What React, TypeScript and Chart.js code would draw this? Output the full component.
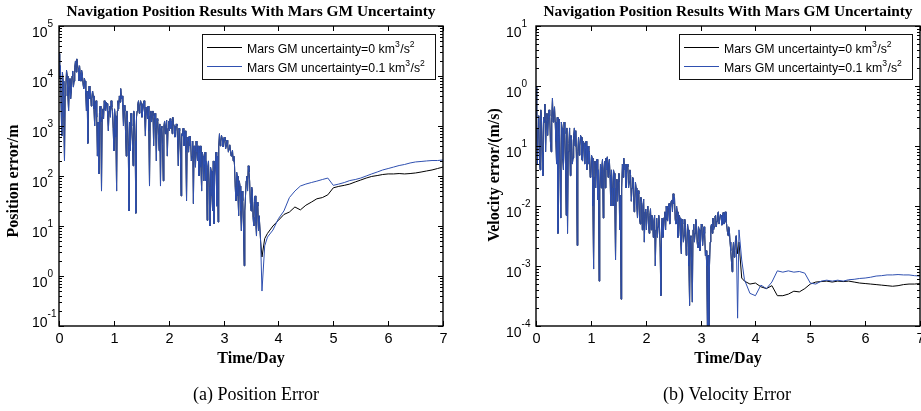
import React, { useEffect, useRef } from 'react';
import { Chart, registerables } from 'chart.js';

Chart.register(...registerables);

// ---------------- DATA ----------------
const SAMPLE_STEP_DAYS = 0.0125; // early samples every 0.0125 day starting at day 0
const xTickValues = [0, 1, 2, 3, 4, 5, 6, 7];
const xTickLabels = ['0', '1', '2', '3', '4', '5', '6', '7'];
const posTickValues = [1e5, 1e4, 1e3, 1e2, 1e1, 1, 0.1];
const posTickLabels = ['10^5', '10^4', '10^3', '10^2', '10^1', '10^0', '10^{-1}'];
const velTickValues = [10, 1, 0.1, 0.01, 0.001, 0.0001];
const velTickLabels = ['10^1', '10^0', '10^1', '10^{-2}', '10^{-3}', '10^{-4}'];
const minorMultipliers = [2, 3, 4, 5, 6, 7, 8, 9];
const seriesNames = ['Mars GM uncertainty=0 km^3/s^2', 'Mars GM uncertainty=0.1 km^3/s^2'];

// position error (m), common to both runs, day 0 .. 3.65
const posEarly = [
  2.8e4, 9e3, 1.6e4, 3e3, 630, 1.2e4, 7.9e3, 1.5e3, 200, 4e3,
  6.3e3, 1.3e4, 1e4, 4e3, 2e3, 6e3, 8.9e3, 3.5e3, 5e3, 1e4,
  1.26e4, 6e3, 7.9e3, 1.5e4, 2e4, 1.2e4, 2.2e4, 1.7e4, 1.4e4, 8e3,
  1.6e4, 1.1e4, 7.9e3, 1.3e4, 1.1e4, 7e3, 5.6e3, 9e3, 7.9e3, 4.5e3,
  2e3, 5e3, 450, 4e3, 6.3e3, 3.5e3, 5e3, 2.5e3, 3.5e3, 5e3,
  4e3, 2.2e3, 1e3, 2.5e3, 3.2e3, 1.5e3, 250, 1.2e3, 110, 1.8e3,
  2.5e3, 1.2e3, 50, 1.5e3, 2.2e3, 1.4e3, 3.2e3, 2.2e3, 2e3, 3e3,
  2.8e3, 1.6e3, 800, 2e3, 2.5e3, 1.5e3, 3.2e3, 2.4e3, 2e3, 900,
  320, 2.2e3, 1.6e3, 600, 50, 2e3, 3.2e3, 2.2e3, 4e3, 3e3,
  5.6e3, 3.5e3, 4e3, 2.5e3, 1e3, 2.6e3, 2e3, 800, 250, 2e3,
  1.26e3, 400, 20, 1.2e3, 320, 1.8e3, 1e3, 500, 160, 2e3,
  1.6e3, 500, 18, 1.5e3, 2e3, 2.8e3, 3.2e3, 1.8e3, 2.5e3, 3.2e3,
  2.8e3, 1.5e3, 2e3, 2.6e3, 3.2e3, 1.6e3, 630, 2.4e3, 2.2e3, 1.4e3,
  2.5e3, 800, 63, 1.6e3, 2e3, 1.2e3, 1.6e3, 2e3, 400, 1.4e3,
  1.8e3, 900, 200, 1.4e3, 1.26e3, 700, 320, 1.1e3, 63, 900,
  1e3, 400, 80, 1e3, 1.26e3, 700, 1e3, 1.3e3, 250, 900,
  1.26e3, 800, 1.4e3, 900, 1.26e3, 700, 1.5e3, 1.1e3, 1e3, 600,
  800, 1.1e3, 1e3, 500, 160, 900, 800, 300, 40, 700,
  630, 900, 400, 700, 800, 300, 32, 600, 500, 300,
  630, 400, 500, 200, 250, 500, 28, 400, 320, 150,
  500, 300, 200, 400, 100, 300, 400, 150, 50, 300,
  250, 80, 160, 300, 80, 200, 13, 150, 200, 60,
  10, 150, 126, 40, 20, 200, 11, 100, 160, 300,
  25, 250, 12, 400, 700, 400, 500, 650, 560, 380,
  450, 600, 500, 350, 400, 520, 450, 300, 350, 420,
  320, 250, 280, 330, 200, 250, 160, 60, 32, 120,
  100, 40, 16, 80, 63, 20, 8, 50, 32, 10,
  1.6, 20, 40, 80, 100, 50, 160, 120, 80, 30,
  20, 60, 50, 15, 10, 30, 40, 12, 6.3, 30,
  25, 8, 16,
];

// velocity error (m/s), common to both runs, day 0 .. 3.65
const velEarly = [
  1.0, 0.3, 0.05, 0.2, 0.32, 0.06, 0.04, 0.4, 0.28, 0.08,
  0.032, 0.3, 0.25, 0.5, 0.08, 0.25, 0.35, 0.15, 0.28, 0.4,
  0.32, 0.12, 0.08, 0.3, 0.63, 0.25, 0.35, 0.45, 0.25, 0.12,
  0.05, 0.3, 0.0035, 0.15, 0.28, 0.04, 0.0063, 0.25, 0.2, 0.06,
  0.04, 0.25, 0.16, 0.05, 0.007, 0.2, 0.0035, 0.08, 0.11, 0.2,
  0.032, 0.15, 0.126, 0.05, 0.063, 0.15, 0.2, 0.1, 0.18, 0.06,
  0.0022, 0.08, 0.14, 0.07, 0.1, 0.15, 0.14, 0.06, 0.056, 0.12,
  0.11, 0.05, 0.089, 0.12, 0.04, 0.09, 0.1, 0.05, 0.08, 0.03,
  0.032, 0.07, 0.063, 0.01, 0.00089, 0.03, 0.056, 0.02, 0.05, 0.06,
  0.0126, 0.04, 0.00056, 0.02, 0.05, 0.02, 0.045, 0.06, 0.0063, 0.04,
  0.056, 0.02, 0.063, 0.04, 0.066, 0.03, 0.05, 0.06, 0.032, 0.01,
  0.04, 0.02, 0.01, 0.04, 0.035, 0.01, 0.00126, 0.02, 0.028, 0.012,
  0.025, 0.035, 0.004, 0.015, 0.00028, 0.02, 0.05, 0.03, 0.063, 0.04,
  0.05, 0.02, 0.035, 0.05, 0.045, 0.02, 0.025, 0.04, 0.032, 0.012,
  0.02, 0.03, 0.028, 0.008, 0.01, 0.025, 0.02, 0.01, 0.0063, 0.018,
  0.016, 0.006, 0.005, 0.014, 0.011, 0.004, 0.01, 0.013, 0.0025, 0.008,
  0.0089, 0.004, 0.008, 0.01, 0.005, 0.0035, 0.007, 0.009, 0.004, 0.007,
  0.0063, 0.003, 0.0056, 0.007, 0.001, 0.004, 0.0063, 0.003, 0.0045, 0.007,
  0.005, 0.002, 0.00032, 0.004, 0.0063, 0.003, 0.004, 0.0065, 0.008, 0.004,
  0.01, 0.006, 0.0056, 0.009, 0.011, 0.005, 0.0089, 0.012, 0.0126, 0.008,
  0.016, 0.011, 0.014, 0.006, 0.005, 0.01, 0.008, 0.003, 0.0032, 0.007,
  0.0063, 0.0025, 0.0016, 0.006, 0.005, 0.0025, 0.0032, 0.006, 0.0045, 0.0015,
  0.002, 0.005, 0.004, 0.001, 0.00022, 0.003, 0.0032, 0.001, 0.00025, 0.004,
  0.005, 0.0025, 0.0035, 0.006, 0.005, 0.0025, 0.002, 0.0045, 0.004, 0.0018,
  0.0025, 0.005, 0.0045, 0.0022, 0.0032, 0.0045, 0.0035, 0.0015, 0.0018, 0.001,
  0.00008, 0.0015, 0.000063, 0.001, 0.0025, 0.0045, 0.005, 0.0035, 0.0063, 0.004,
  0.0045, 0.0068, 0.007, 0.0045, 0.0056, 0.0075, 0.008, 0.005, 0.005, 0.0072,
  0.007, 0.0048, 0.0063, 0.0078, 0.005, 0.0065, 0.008, 0.0055, 0.005, 0.0038,
  0.0032, 0.0045, 0.004, 0.0025, 0.0018, 0.0012, 0.0008, 0.0018, 0.0025, 0.0014,
  0.0018, 0.0028, 0.0032,
];

// later part, where the two runs separate
const lateTimes = [
  3.675, 3.7, 3.75, 3.8, 3.9, 4.0, 4.1, 4.2, 4.3, 4.4, 4.5, 4.6, 4.7, 4.8, 4.9,
  5.0, 5.1, 5.2, 5.3, 5.4, 5.5, 5.6, 5.7, 5.8, 5.9, 6.0, 6.1, 6.2, 6.3, 6.4,
  6.5, 6.6, 6.7, 6.8, 6.9, 7.0,
];
const posLateGM0 = [
  5, 2.4, 5.6, 7.1, 10, 13, 17, 19, 24, 21, 26, 30, 35, 37, 42,
  58, 62, 65, 69, 76, 83, 91, 98, 102, 107, 110, 110, 112, 110, 112,
  115, 120, 126, 132, 141, 151,
];
const posLateGM01 = [
  5, 0.5, 4, 6, 8.3, 14, 20, 37, 50, 63, 69, 74, 79, 85, 91,
  65, 69, 74, 81, 85, 91, 100, 110, 120, 132, 141, 151, 162, 170, 182,
  191, 195, 200, 204, 204, 209,
];
const velLateGM0 = [
  0.0016, 0.0025, 0.00063, 0.00056, 0.0005, 0.00052, 0.00045, 0.00042, 0.00047, 0.00032,
  0.00032, 0.00034, 0.00038, 0.00037, 0.00042, 0.0005, 0.00054, 0.00055, 0.00056, 0.00054,
  0.00056, 0.00055, 0.00056, 0.00054, 0.00052, 0.00051, 0.0005, 0.00049, 0.00048, 0.00047,
  0.00046, 0.00047, 0.00049, 0.0005, 0.0005, 0.00051,
];
const velLateGM01 = [
  0.000135, 0.004, 0.00126, 0.00059, 0.00035, 0.00032, 0.00048, 0.00042, 0.00054, 0.00083,
  0.00079, 0.00083, 0.00079, 0.00081, 0.00076, 0.00052, 0.0005, 0.00056, 0.00058, 0.00056,
  0.00058, 0.00056, 0.00059, 0.0006, 0.00062, 0.00063, 0.00065, 0.00068, 0.00069, 0.00071,
  0.00071, 0.00072, 0.00071, 0.00071, 0.00069, 0.00068,
];

// ---------------- STYLE ----------------
const SERIF = '"Liberation Serif", "Times New Roman", serif';
const SANS = '"Liberation Sans", Arial, Helvetica, sans-serif';
const BLACK_LINE = '#000000';
const BLUE_LINE = '#2f50b0';

function buildSeries(early: number[], late: number[], times: number[]) {
  const pts = early.map((v, i) => ({ x: i * SAMPLE_STEP_DAYS, y: v }));
  late.forEach((v, i) => pts.push({ x: times[i], y: v }));
  return pts;
}

type Seg = { t: string; sup: boolean };
function parseSup(s: string): Seg[] {
  const out: Seg[] = [];
  let buf = '';
  let i = 0;
  while (i < s.length) {
    if (s[i] === '^') {
      if (buf) { out.push({ t: buf, sup: false }); buf = ''; }
      i++;
      let sp = '';
      if (s[i] === '{') {
        const j = s.indexOf('}', i);
        sp = s.slice(i + 1, j);
        i = j + 1;
      } else { sp = s[i]; i++; }
      out.push({ t: sp, sup: true });
    } else { buf += s[i]; i++; }
  }
  if (buf) out.push({ t: buf, sup: false });
  return out;
}

function drawSup(ctx: CanvasRenderingContext2D, s: string, x: number, y: number,
  size: number, supSize: number, rise: number, family: string, align: 'left' | 'center' | 'right') {
  const segs = parseSup(s);
  const widths = segs.map((sg) => {
    ctx.font = `${sg.sup ? supSize : size}px ${family}`;
    return ctx.measureText(sg.t).width;
  });
  const total = widths.reduce((a, b) => a + b, 0);
  let cx = align === 'left' ? x : align === 'center' ? x - total / 2 : x - total;
  ctx.textAlign = 'left';
  ctx.textBaseline = 'alphabetic';
  segs.forEach((sg, k) => {
    ctx.font = `${sg.sup ? supSize : size}px ${family}`;
    ctx.fillText(sg.t, cx, sg.sup ? y - rise : y);
    cx += widths[k] + (sg.sup ? 0.5 : 0);
  });
}

type PanelSpec = {
  title: string;
  yTitle: string;
  caption: string;
  yMin: number;
  yMax: number;
  tickValues: number[];
  tickLabels: string[];
  black: { x: number; y: number }[];
  blue: { x: number; y: number }[];
  padding: { left: number; right: number; top: number; bottom: number };
  yLabelOffset: number;
  bottomLabelLift: number;
  yTitleX: number;
  yTitleY: number;
  captionShift: number;
};

function Panel({ spec, left, width }: { spec: PanelSpec; left: number; width: number }) {
  const ref = useRef<HTMLCanvasElement>(null);
  useEffect(() => {
    const canvas = ref.current;
    if (!canvas) return;
    const decor = {
      id: 'panelDecor',
      afterDatasetsDraw(chart: any) {
        const ctx: CanvasRenderingContext2D = chart.ctx;
        const a = chart.chartArea;
        const xs = chart.scales.x;
        const ys = chart.scales.y;
        ctx.save();
        ctx.fillStyle = '#000';
        ctx.strokeStyle = '#000';
        const seg = (x1: number, y1: number, x2: number, y2: number) => {
          ctx.beginPath(); ctx.moveTo(x1, y1); ctx.lineTo(x2, y2); ctx.stroke();
        };
        // ticks (inward, MATLAB style)
        ctx.lineWidth = 1;
        xTickValues.forEach((v, i) => {
          const px = Math.round(xs.getPixelForValue(v)) + 0.5;
          seg(px, a.bottom, px, a.bottom - 5);
          seg(px, a.top, px, a.top + 5);
          ctx.font = `14.5px ${SANS}`;
          ctx.textAlign = 'center';
          ctx.textBaseline = 'alphabetic';
          ctx.fillText(xTickLabels[i], px, a.bottom + 17);
        });
        spec.tickValues.forEach((v, i) => {
          const py = Math.round(ys.getPixelForValue(v)) + 0.5;
          seg(a.left, py, a.left + 5, py);
          seg(a.right, py, a.right - 5, py);
          const last = i === spec.tickValues.length - 1;
          const base = py + 10 - (last ? spec.bottomLabelLift : 0);
          drawSup(ctx, spec.tickLabels[i], a.left - spec.yLabelOffset, base, 14, 10, 9.5, SANS, 'left');
          if (!last) {
            const lower = spec.tickValues[i + 1];
            minorMultipliers.forEach((m) => {
              const my = Math.round(ys.getPixelForValue(lower * m)) + 0.5;
              seg(a.left, my, a.left + 3, my);
              seg(a.right, my, a.right - 3, my);
            });
          }
        });
        // frame
        ctx.lineWidth = 1.4;
        ctx.strokeRect(a.left, a.top, a.right - a.left, a.bottom - a.top);

        // legend
        const bw = 233, bh = 45;
        const bx = a.right - 8 - bw, by = a.top + 8;
        ctx.fillStyle = '#fff';
        ctx.fillRect(bx, by, bw, bh);
        ctx.lineWidth = 1;
        ctx.strokeStyle = '#111';
        ctx.strokeRect(bx + 0.5, by + 0.5, bw, bh);
        const rows = [
          { color: BLACK_LINE, label: seriesNames[0], ly: 13, ty: 18.5 },
          { color: BLUE_LINE, label: seriesNames[1], ly: 32, ty: 37.5 },
        ];
        rows.forEach((r) => {
          ctx.strokeStyle = r.color;
          ctx.lineWidth = 1;
          seg(bx + 5, by + r.ly + 0.5, bx + 40, by + r.ly + 0.5);
          ctx.fillStyle = '#000';
          drawSup(ctx, r.label, bx + 45, by + r.ty, 12.3, 8.6, 5.5, SANS, 'left');
        });

        // title, axis titles, caption
        const cxm = (a.left + a.right) / 2;
        ctx.fillStyle = '#000';
        ctx.textAlign = 'center';
        ctx.textBaseline = 'middle';
        ctx.font = `bold 15.4px ${SERIF}`;
        ctx.fillText(spec.title, cxm, 12);
        ctx.font = `bold 16px ${SERIF}`;
        ctx.fillText('Time/Day', cxm, 359);
        ctx.font = `18px ${SERIF}`;
        ctx.fillText(spec.caption, cxm + spec.captionShift, 395);
        ctx.save();
        ctx.translate(spec.yTitleX, spec.yTitleY);
        ctx.rotate(-Math.PI / 2);
        ctx.font = `bold 16px ${SERIF}`;
        ctx.textAlign = 'center';
        ctx.textBaseline = 'middle';
        ctx.fillText(spec.yTitle, 0, 0);
        ctx.restore();
        ctx.restore();
      },
    };
    const chart = new Chart(canvas, {
      type: 'line',
      data: {
        datasets: [
          {
            label: parseSup(seriesNames[0]).map((s) => s.t).join(''),
            data: spec.black,
            borderColor: BLACK_LINE,
            borderWidth: 1,
            pointRadius: 0,
            fill: false,
            order: 2,
          },
          {
            label: parseSup(seriesNames[1]).map((s) => s.t).join(''),
            data: spec.blue,
            borderColor: BLUE_LINE,
            borderWidth: 1,
            pointRadius: 0,
            fill: false,
            order: 1,
          },
        ],
      },
      options: {
        responsive: false,
        animation: false,
        devicePixelRatio: 1,
        events: [],
        layout: { padding: spec.padding },
        elements: { line: { tension: 0 }, point: { radius: 0 } },
        scales: {
          x: { type: 'linear', min: 0, max: 7, display: false },
          y: { type: 'logarithmic', min: spec.yMin, max: spec.yMax, display: false },
        },
        plugins: {
          legend: { display: false },
          title: { display: false },
          tooltip: { enabled: false },
        },
      },
      plugins: [decor],
    } as any);
    return () => chart.destroy();
  }, [spec]);
  return (
    <canvas
      ref={ref}
      width={width}
      height={411}
      style={{ position: 'absolute', left, top: 0, width, height: 411 }}
    />
  );
}

const leftSpec: PanelSpec = {
  title: 'Navigation Position Results With Mars GM Uncertainty',
  yTitle: 'Position error/m',
  caption: '(a) Position Error',
  yMin: 0.1,
  yMax: 1e5,
  tickValues: posTickValues,
  tickLabels: posTickLabels,
  black: buildSeries(posEarly, posLateGM0, lateTimes),
  blue: buildSeries(posEarly, posLateGM01, lateTimes),
  padding: { left: 59, right: 17, top: 26, bottom: 85 },
  yLabelOffset: 27,
  bottomLabelLift: 10,
  yTitleX: 14,
  yTitleY: 181,
  captionShift: 5,
};

const rightSpec: PanelSpec = {
  title: 'Navigation Position Results With Mars GM Uncertainty',
  yTitle: 'Velocity error/(m/s)',
  caption: '(b) Velocity Error',
  yMin: 0.0001,
  yMax: 10,
  tickValues: velTickValues,
  tickLabels: velTickLabels,
  black: buildSeries(velEarly, velLateGM0, lateTimes),
  blue: buildSeries(velEarly, velLateGM01, lateTimes),
  padding: { left: 76, right: 1, top: 26, bottom: 85 },
  yLabelOffset: 30,
  bottomLabelLift: 0,
  yTitleX: 35,
  yTitleY: 175,
  captionShift: -1,
};

export default function App() {
  return (
    <div
      style={{
        position: 'fixed',
        left: 0,
        top: 0,
        width: 921,
        height: 411,
        background: '#ffffff',
        overflow: 'hidden',
      }}
    >
      <Panel spec={leftSpec} left={0} width={460} />
      <Panel spec={rightSpec} left={460} width={461} />
    </div>
  );
}
